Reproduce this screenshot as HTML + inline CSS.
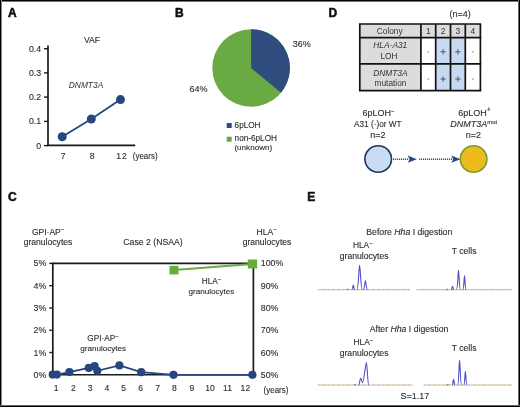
<!DOCTYPE html>
<html><head><meta charset="utf-8"><style>
html,body{margin:0;padding:0;background:#fff;width:520px;height:407px;overflow:hidden}
svg{display:block;font-family:"Liberation Sans",sans-serif;filter:blur(0.3px)}
</style></head><body>
<svg width="520" height="407" viewBox="0 0 520 407">
<rect x="0" y="0" width="520" height="407" fill="#fff"/>
<text x="8" y="17" font-size="12" text-anchor="start" font-weight="bold" fill="#111" stroke="#111" stroke-width="0.55" >A</text>
<text x="175" y="17" font-size="12" text-anchor="start" font-weight="bold" fill="#111" stroke="#111" stroke-width="0.55" >B</text>
<text x="328.6" y="17" font-size="12" text-anchor="start" font-weight="bold" fill="#111" stroke="#111" stroke-width="0.55" >D</text>
<text x="8" y="201.0" font-size="12" text-anchor="start" font-weight="bold" fill="#111" stroke="#111" stroke-width="0.55" >C</text>
<text x="307.3" y="200.8" font-size="12" text-anchor="start" font-weight="bold" fill="#111" stroke="#111" stroke-width="0.55" >E</text>
<text x="92" y="43.3" font-size="8.6" text-anchor="middle" font-weight="normal" fill="#2e2e2e" stroke="#2e2e2e" stroke-width="0.12" >VAF</text>
<text x="86" y="88" font-size="8.4" text-anchor="middle" font-weight="normal" fill="#333" stroke="#333" stroke-width="0" font-style="italic" >DNMT3A</text>
<line x1="48" y1="45.4" x2="48" y2="146" stroke="#1a1a1a" stroke-width="1.7"/>
<line x1="47" y1="145.4" x2="135.2" y2="145.4" stroke="#1a1a1a" stroke-width="1.6"/>
<line x1="44" y1="48.7" x2="48" y2="48.7" stroke="#1a1a1a" stroke-width="1.4"/>
<text x="41.2" y="51.7" font-size="8.8" text-anchor="end" font-weight="normal" fill="#2e2e2e" stroke="#2e2e2e" stroke-width="0.12" >0.4</text>
<line x1="44" y1="72.9" x2="48" y2="72.9" stroke="#1a1a1a" stroke-width="1.4"/>
<text x="41.2" y="75.9" font-size="8.8" text-anchor="end" font-weight="normal" fill="#2e2e2e" stroke="#2e2e2e" stroke-width="0.12" >0.3</text>
<line x1="44" y1="97.1" x2="48" y2="97.1" stroke="#1a1a1a" stroke-width="1.4"/>
<text x="41.2" y="100.1" font-size="8.8" text-anchor="end" font-weight="normal" fill="#2e2e2e" stroke="#2e2e2e" stroke-width="0.12" >0.2</text>
<line x1="44" y1="121.4" x2="48" y2="121.4" stroke="#1a1a1a" stroke-width="1.4"/>
<text x="41.2" y="124.4" font-size="8.8" text-anchor="end" font-weight="normal" fill="#2e2e2e" stroke="#2e2e2e" stroke-width="0.12" >0.1</text>
<line x1="44" y1="145.6" x2="48" y2="145.6" stroke="#1a1a1a" stroke-width="1.4"/>
<text x="41.2" y="148.6" font-size="8.8" text-anchor="end" font-weight="normal" fill="#2e2e2e" stroke="#2e2e2e" stroke-width="0.12" >0</text>
<polyline points="62.2,136.8 91.3,119 120.5,99.6" fill="none" stroke="#25467f" stroke-width="1.8"/>
<circle cx="62.2" cy="136.8" r="4.5" fill="#25467f"/>
<circle cx="91.3" cy="119" r="4.5" fill="#25467f"/>
<circle cx="120.5" cy="99.6" r="4.5" fill="#25467f"/>
<text x="63.2" y="158.6" font-size="8.6" text-anchor="middle" font-weight="normal" fill="#2e2e2e" stroke="#2e2e2e" stroke-width="0.12" >7</text>
<text x="92.1" y="158.6" font-size="8.6" text-anchor="middle" font-weight="normal" fill="#2e2e2e" stroke="#2e2e2e" stroke-width="0.12" >8</text>
<text x="116.3" y="158.7" font-size="8.6" text-anchor="start" font-weight="normal" fill="#2e2e2e" stroke="#2e2e2e" stroke-width="0.12" >1<tspan dx="0.8">2</tspan></text>
<text x="132.8" y="159.2" font-size="8.6" text-anchor="start" font-weight="normal" fill="#2e2e2e" stroke="#2e2e2e" stroke-width="0.12" textLength="24.8" lengthAdjust="spacingAndGlyphs">(years)</text>
<circle cx="251.1" cy="68.0" r="38.8" fill="#6aaa45"/>
<path d="M251.1,68.0 L251.1,29.200000000000003 A38.8,38.8 0 0 1 281.00,92.73 Z" fill="#2f4c7e"/>
<text x="301.8" y="46.5" font-size="9" text-anchor="middle" font-weight="normal" fill="#2e2e2e" stroke="#2e2e2e" stroke-width="0.12" >36%</text>
<text x="198.4" y="91.9" font-size="9" text-anchor="middle" font-weight="normal" fill="#2e2e2e" stroke="#2e2e2e" stroke-width="0.12" >64%</text>
<rect x="226.7" y="123" width="5" height="5" fill="#2f4c7e"/>
<rect x="226.7" y="136.7" width="5" height="5" fill="#6aaa45"/>
<text x="234.6" y="127.9" font-size="8.2" text-anchor="start" font-weight="normal" fill="#2e2e2e" stroke="#2e2e2e" stroke-width="0.12" >6pLOH</text>
<text x="234.6" y="141.1" font-size="8.2" text-anchor="start" font-weight="normal" fill="#2e2e2e" stroke="#2e2e2e" stroke-width="0.12" >non-6pLOH</text>
<text x="234.4" y="149.6" font-size="8.1" text-anchor="start" font-weight="normal" fill="#2e2e2e" stroke="#2e2e2e" stroke-width="0.12" >(unknown)</text>
<text x="460.2" y="17.2" font-size="9" text-anchor="middle" font-weight="normal" fill="#2e2e2e" stroke="#2e2e2e" stroke-width="0.12" >(n=4)</text>
<rect x="359.8" y="24" width="120.59999999999997" height="13.600000000000001" fill="#dcdcdc"/>
<rect x="359.8" y="24" width="61.099999999999966" height="66.7" fill="#dcdcdc"/>
<rect x="435.7" y="37.6" width="29.600000000000023" height="53.1" fill="#c8daf1"/>
<line x1="358.95" y1="24" x2="481.25" y2="24" stroke="#111" stroke-width="1.7"/>
<line x1="358.95" y1="37.6" x2="481.25" y2="37.6" stroke="#111" stroke-width="1.7"/>
<line x1="358.95" y1="63.9" x2="481.25" y2="63.9" stroke="#111" stroke-width="1.7"/>
<line x1="358.95" y1="90.7" x2="481.25" y2="90.7" stroke="#111" stroke-width="1.7"/>
<line x1="359.8" y1="24" x2="359.8" y2="90.7" stroke="#111" stroke-width="1.7"/>
<line x1="420.9" y1="24" x2="420.9" y2="90.7" stroke="#111" stroke-width="1.7"/>
<line x1="435.7" y1="24" x2="435.7" y2="90.7" stroke="#111" stroke-width="1.7"/>
<line x1="450.5" y1="24" x2="450.5" y2="90.7" stroke="#111" stroke-width="1.7"/>
<line x1="465.3" y1="24" x2="465.3" y2="90.7" stroke="#111" stroke-width="1.7"/>
<line x1="480.4" y1="24" x2="480.4" y2="90.7" stroke="#111" stroke-width="1.7"/>
<text x="389.7" y="34.1" font-size="8.3" text-anchor="middle" font-weight="normal" fill="#333" stroke="#333" stroke-width="0" >Colony</text>
<text x="428.29999999999995" y="33.9" font-size="8.4" text-anchor="middle" font-weight="normal" fill="#333" stroke="#333" stroke-width="0" >1</text>
<text x="443.1" y="33.9" font-size="8.4" text-anchor="middle" font-weight="normal" fill="#333" stroke="#333" stroke-width="0" >2</text>
<text x="457.9" y="33.9" font-size="8.4" text-anchor="middle" font-weight="normal" fill="#333" stroke="#333" stroke-width="0" >3</text>
<text x="472.85" y="33.9" font-size="8.4" text-anchor="middle" font-weight="normal" fill="#333" stroke="#333" stroke-width="0" >4</text>
<text x="390.3" y="48.4" font-size="8.4" text-anchor="middle" font-weight="normal" fill="#333" stroke="#333" stroke-width="0" font-style="italic" >HLA·A31</text>
<text x="389" y="58.5" font-size="8.4" text-anchor="middle" font-weight="normal" fill="#333" stroke="#333" stroke-width="0" >LOH</text>
<text x="390.4" y="75.9" font-size="8.4" text-anchor="middle" font-weight="normal" fill="#333" stroke="#333" stroke-width="0" font-style="italic" >DNMT3A</text>
<text x="390.5" y="86.4" font-size="8.3" text-anchor="middle" font-weight="normal" fill="#333" stroke="#333" stroke-width="0" >mutation</text>
<rect x="427.4" y="51.199999999999996" width="1.8" height="1.2" fill="#999"/>
<path d="M440.40000000000003,51.8 H445.8 M443.1,49.099999999999994 V54.5" stroke="#3a4560" stroke-width="0.85"/>
<path d="M455.2,51.8 H460.59999999999997 M457.9,49.099999999999994 V54.5" stroke="#3a4560" stroke-width="0.85"/>
<rect x="471.95000000000005" y="51.199999999999996" width="1.8" height="1.2" fill="#999"/>
<rect x="427.4" y="78.4" width="1.8" height="1.2" fill="#999"/>
<path d="M440.40000000000003,79.0 H445.8 M443.1,76.3 V81.7" stroke="#3a4560" stroke-width="0.85"/>
<path d="M455.2,79.0 H460.59999999999997 M457.9,76.3 V81.7" stroke="#3a4560" stroke-width="0.85"/>
<rect x="471.95000000000005" y="78.4" width="1.8" height="1.2" fill="#999"/>
<text x="378.4" y="116.4" font-size="9" text-anchor="middle" font-weight="normal" fill="#2e2e2e" stroke="#2e2e2e" stroke-width="0.12" >6pLOH<tspan font-size="6" dy="-3.3">−</tspan></text>
<text x="377.8" y="126.9" font-size="8.9" text-anchor="middle" font-weight="normal" fill="#2e2e2e" stroke="#2e2e2e" stroke-width="0.12" textLength="47.5" lengthAdjust="spacingAndGlyphs">A31 (·)or WT</text>
<text x="378" y="137.7" font-size="9" text-anchor="middle" font-weight="normal" fill="#2e2e2e" stroke="#2e2e2e" stroke-width="0.12" >n=2</text>
<text x="474.6" y="116.2" font-size="9" text-anchor="middle" font-weight="normal" fill="#2e2e2e" stroke="#2e2e2e" stroke-width="0.12" >6pLOH<tspan font-size="7" dy="-4">+</tspan></text>
<text x="473.7" y="126.5" font-size="9" text-anchor="middle" font-weight="normal" fill="#2e2e2e" stroke="#2e2e2e" stroke-width="0.12" ><tspan font-style="italic">DNMT3A</tspan><tspan font-size="5.8" dy="-3">mut</tspan></text>
<text x="473.5" y="137.7" font-size="9" text-anchor="middle" font-weight="normal" fill="#2e2e2e" stroke="#2e2e2e" stroke-width="0.12" >n=2</text>
<circle cx="378.2" cy="159" r="13.3" fill="#c8dcf3" stroke="#22345a" stroke-width="1.6"/>
<circle cx="473.6" cy="159" r="13.3" fill="#eebb1e" stroke="#7b9a2d" stroke-width="1.6"/>
<rect x="393" y="158.5" width="1.2" height="1.4" fill="#25467f"/>
<rect x="395" y="158.5" width="1.2" height="1.4" fill="#25467f"/>
<rect x="397" y="158.5" width="1.2" height="1.4" fill="#25467f"/>
<rect x="399" y="158.5" width="1.2" height="1.4" fill="#25467f"/>
<rect x="401" y="158.5" width="1.2" height="1.4" fill="#25467f"/>
<rect x="403" y="158.5" width="1.2" height="1.4" fill="#25467f"/>
<rect x="405" y="158.5" width="1.2" height="1.4" fill="#25467f"/>
<rect x="407" y="158.5" width="1.2" height="1.4" fill="#25467f"/>
<rect x="419" y="158.5" width="1.2" height="1.4" fill="#25467f"/>
<rect x="421" y="158.5" width="1.2" height="1.4" fill="#25467f"/>
<rect x="423" y="158.5" width="1.2" height="1.4" fill="#25467f"/>
<rect x="425" y="158.5" width="1.2" height="1.4" fill="#25467f"/>
<rect x="427" y="158.5" width="1.2" height="1.4" fill="#25467f"/>
<rect x="429" y="158.5" width="1.2" height="1.4" fill="#25467f"/>
<rect x="431" y="158.5" width="1.2" height="1.4" fill="#25467f"/>
<rect x="433" y="158.5" width="1.2" height="1.4" fill="#25467f"/>
<rect x="435" y="158.5" width="1.2" height="1.4" fill="#25467f"/>
<rect x="437" y="158.5" width="1.2" height="1.4" fill="#25467f"/>
<rect x="439" y="158.5" width="1.2" height="1.4" fill="#25467f"/>
<rect x="441" y="158.5" width="1.2" height="1.4" fill="#25467f"/>
<rect x="443" y="158.5" width="1.2" height="1.4" fill="#25467f"/>
<rect x="445" y="158.5" width="1.2" height="1.4" fill="#25467f"/>
<rect x="447" y="158.5" width="1.2" height="1.4" fill="#25467f"/>
<rect x="449" y="158.5" width="1.2" height="1.4" fill="#25467f"/>
<rect x="451" y="158.5" width="1.2" height="1.4" fill="#25467f"/>
<path d="M407.7,155.6 L416.8,159.2 L407.7,162.8 L409.6,159.2 Z" fill="#25467f"/>
<path d="M451.3,155.6 L460.4,159.2 L451.3,162.8 L453.2,159.2 Z" fill="#25467f"/>
<text x="48.1" y="234.6" font-size="8.5" text-anchor="middle" font-weight="normal" fill="#2e2e2e" stroke="#2e2e2e" stroke-width="0.12" >GPI·AP<tspan font-size="6" dy="-3.3">−</tspan></text>
<text x="48" y="244.9" font-size="8.6" text-anchor="middle" font-weight="normal" fill="#2e2e2e" stroke="#2e2e2e" stroke-width="0.12" >granulocytes</text>
<text x="153" y="244.9" font-size="8.7" text-anchor="middle" font-weight="normal" fill="#2e2e2e" stroke="#2e2e2e" stroke-width="0.12" >Case 2 (NSAA)</text>
<text x="266.7" y="234.6" font-size="8.6" text-anchor="middle" font-weight="normal" fill="#2e2e2e" stroke="#2e2e2e" stroke-width="0.12" >HLA<tspan font-size="6" dy="-3.3">−</tspan></text>
<text x="267" y="244.9" font-size="8.6" text-anchor="middle" font-weight="normal" fill="#2e2e2e" stroke="#2e2e2e" stroke-width="0.12" >granulocytes</text>
<line x1="52.8" y1="263.4" x2="253.4" y2="263.4" stroke="#1a1a1a" stroke-width="1.6"/>
<line x1="52.8" y1="374.8" x2="253.4" y2="374.8" stroke="#1a1a1a" stroke-width="1.6"/>
<line x1="52.8" y1="262.59999999999997" x2="52.8" y2="375.6" stroke="#1a1a1a" stroke-width="1.7"/>
<line x1="253.4" y1="262.59999999999997" x2="253.4" y2="375.6" stroke="#1a1a1a" stroke-width="1.7"/>
<line x1="49.3" y1="263.4" x2="52.8" y2="263.4" stroke="#1a1a1a" stroke-width="1.4"/>
<text x="46.3" y="266.4" font-size="8.8" text-anchor="end" font-weight="normal" fill="#2e2e2e" stroke="#2e2e2e" stroke-width="0.12" >5%</text>
<text x="260.8" y="266.4" font-size="8.8" text-anchor="start" font-weight="normal" fill="#2e2e2e" stroke="#2e2e2e" stroke-width="0.12" >100%</text>
<line x1="49.3" y1="285.68" x2="52.8" y2="285.68" stroke="#1a1a1a" stroke-width="1.4"/>
<text x="46.3" y="288.68" font-size="8.8" text-anchor="end" font-weight="normal" fill="#2e2e2e" stroke="#2e2e2e" stroke-width="0.12" >4%</text>
<text x="260.8" y="288.68" font-size="8.8" text-anchor="start" font-weight="normal" fill="#2e2e2e" stroke="#2e2e2e" stroke-width="0.12" >90%</text>
<line x1="49.3" y1="307.96" x2="52.8" y2="307.96" stroke="#1a1a1a" stroke-width="1.4"/>
<text x="46.3" y="310.96" font-size="8.8" text-anchor="end" font-weight="normal" fill="#2e2e2e" stroke="#2e2e2e" stroke-width="0.12" >3%</text>
<text x="260.8" y="310.96" font-size="8.8" text-anchor="start" font-weight="normal" fill="#2e2e2e" stroke="#2e2e2e" stroke-width="0.12" >80%</text>
<line x1="49.3" y1="330.24" x2="52.8" y2="330.24" stroke="#1a1a1a" stroke-width="1.4"/>
<text x="46.3" y="333.24" font-size="8.8" text-anchor="end" font-weight="normal" fill="#2e2e2e" stroke="#2e2e2e" stroke-width="0.12" >2%</text>
<text x="260.8" y="333.24" font-size="8.8" text-anchor="start" font-weight="normal" fill="#2e2e2e" stroke="#2e2e2e" stroke-width="0.12" >70%</text>
<line x1="49.3" y1="352.52" x2="52.8" y2="352.52" stroke="#1a1a1a" stroke-width="1.4"/>
<text x="46.3" y="355.52" font-size="8.8" text-anchor="end" font-weight="normal" fill="#2e2e2e" stroke="#2e2e2e" stroke-width="0.12" >1%</text>
<text x="260.8" y="355.52" font-size="8.8" text-anchor="start" font-weight="normal" fill="#2e2e2e" stroke="#2e2e2e" stroke-width="0.12" >60%</text>
<line x1="49.3" y1="374.8" x2="52.8" y2="374.8" stroke="#1a1a1a" stroke-width="1.4"/>
<text x="46.3" y="377.8" font-size="8.8" text-anchor="end" font-weight="normal" fill="#2e2e2e" stroke="#2e2e2e" stroke-width="0.12" >0%</text>
<text x="260.8" y="377.8" font-size="8.8" text-anchor="start" font-weight="normal" fill="#2e2e2e" stroke="#2e2e2e" stroke-width="0.12" >50%</text>
<text x="56.2" y="391" font-size="8.6" text-anchor="middle" font-weight="normal" fill="#2e2e2e" stroke="#2e2e2e" stroke-width="0.12" >1</text>
<text x="73.4" y="391" font-size="8.6" text-anchor="middle" font-weight="normal" fill="#2e2e2e" stroke="#2e2e2e" stroke-width="0.12" >2</text>
<text x="90.1" y="391" font-size="8.6" text-anchor="middle" font-weight="normal" fill="#2e2e2e" stroke="#2e2e2e" stroke-width="0.12" >3</text>
<text x="106.9" y="391" font-size="8.6" text-anchor="middle" font-weight="normal" fill="#2e2e2e" stroke="#2e2e2e" stroke-width="0.12" >4</text>
<text x="123.6" y="391" font-size="8.6" text-anchor="middle" font-weight="normal" fill="#2e2e2e" stroke="#2e2e2e" stroke-width="0.12" >5</text>
<text x="140.6" y="391" font-size="8.6" text-anchor="middle" font-weight="normal" fill="#2e2e2e" stroke="#2e2e2e" stroke-width="0.12" >6</text>
<text x="157.6" y="391" font-size="8.6" text-anchor="middle" font-weight="normal" fill="#2e2e2e" stroke="#2e2e2e" stroke-width="0.12" >7</text>
<text x="174.5" y="391" font-size="8.6" text-anchor="middle" font-weight="normal" fill="#2e2e2e" stroke="#2e2e2e" stroke-width="0.12" >8</text>
<text x="191.9" y="391" font-size="8.6" text-anchor="middle" font-weight="normal" fill="#2e2e2e" stroke="#2e2e2e" stroke-width="0.12" >9</text>
<text x="210.1" y="391" font-size="8.6" text-anchor="middle" font-weight="normal" fill="#2e2e2e" stroke="#2e2e2e" stroke-width="0.12" >10</text>
<text x="227.5" y="391" font-size="8.6" text-anchor="middle" font-weight="normal" fill="#2e2e2e" stroke="#2e2e2e" stroke-width="0.12" >11</text>
<text x="245.4" y="391" font-size="8.6" text-anchor="middle" font-weight="normal" fill="#2e2e2e" stroke="#2e2e2e" stroke-width="0.12" >12</text>
<text x="263.6" y="392.8" font-size="8.6" text-anchor="start" font-weight="normal" fill="#2e2e2e" stroke="#2e2e2e" stroke-width="0.12" textLength="24.8" lengthAdjust="spacingAndGlyphs">(years)</text>
<text x="103" y="340.9" font-size="8.2" text-anchor="middle" font-weight="normal" fill="#2e2e2e" stroke="#2e2e2e" stroke-width="0.12" >GPI·AP<tspan font-size="6" dy="-3.3">−</tspan></text>
<text x="103.2" y="351.1" font-size="8.1" text-anchor="middle" font-weight="normal" fill="#2e2e2e" stroke="#2e2e2e" stroke-width="0.12" >granulocytes</text>
<text x="211.5" y="284.1" font-size="8.2" text-anchor="middle" font-weight="normal" fill="#2e2e2e" stroke="#2e2e2e" stroke-width="0.12" >HLA<tspan font-size="6" dy="-3.3">−</tspan></text>
<text x="211.4" y="294.2" font-size="8.1" text-anchor="middle" font-weight="normal" fill="#2e2e2e" stroke="#2e2e2e" stroke-width="0.12" >granulocytes</text>
<polyline points="52.7,374.6 56.9,374.6 69.4,372.1 88.8,367.9 94.6,366 97.3,370.8 119.4,365.4 141.2,372.2 173.5,374.8 252.4,374.8" fill="none" stroke="#25467f" stroke-width="1.8"/>
<circle cx="52.7" cy="374.6" r="4.1" fill="#25467f"/>
<circle cx="56.9" cy="374.6" r="4.1" fill="#25467f"/>
<circle cx="69.4" cy="372.1" r="4.1" fill="#25467f"/>
<circle cx="88.8" cy="367.9" r="4.1" fill="#25467f"/>
<circle cx="94.6" cy="366" r="4.1" fill="#25467f"/>
<circle cx="97.3" cy="370.8" r="4.1" fill="#25467f"/>
<circle cx="119.4" cy="365.4" r="4.1" fill="#25467f"/>
<circle cx="141.2" cy="372.2" r="4.1" fill="#25467f"/>
<circle cx="173.5" cy="374.8" r="4.1" fill="#25467f"/>
<circle cx="252.4" cy="374.8" r="4.1" fill="#25467f"/>
<line x1="174" y1="270" x2="252.5" y2="264" stroke="#6aab3f" stroke-width="1.8"/>
<rect x="169.5" y="265.8" width="9" height="8.6" fill="#6aab3f"/>
<rect x="247.8" y="259.5" width="9.4" height="9" fill="#6aab3f"/>
<text x="409.3" y="235" font-size="8.7" text-anchor="middle" font-weight="normal" fill="#2e2e2e" stroke="#2e2e2e" stroke-width="0.12" >Before <tspan font-style="italic">Hha</tspan> I digestion</text>
<text x="409.1" y="331.7" font-size="8.7" text-anchor="middle" font-weight="normal" fill="#2e2e2e" stroke="#2e2e2e" stroke-width="0.12" >After <tspan font-style="italic">Hha</tspan> I digestion</text>
<text x="362.8" y="248.1" font-size="8.4" text-anchor="middle" font-weight="normal" fill="#2e2e2e" stroke="#2e2e2e" stroke-width="0.12" >HLA<tspan font-size="6" dy="-3.3">−</tspan></text>
<text x="364.2" y="259" font-size="8.6" text-anchor="middle" font-weight="normal" fill="#2e2e2e" stroke="#2e2e2e" stroke-width="0.12" >granulocytes</text>
<text x="363.4" y="345.4" font-size="8.4" text-anchor="middle" font-weight="normal" fill="#2e2e2e" stroke="#2e2e2e" stroke-width="0.12" >HLA<tspan font-size="6" dy="-3.3">−</tspan></text>
<text x="364.1" y="355.6" font-size="8.6" text-anchor="middle" font-weight="normal" fill="#2e2e2e" stroke="#2e2e2e" stroke-width="0.12" >granulocytes</text>
<text x="464.1" y="253.5" font-size="8.6" text-anchor="middle" font-weight="normal" fill="#2e2e2e" stroke="#2e2e2e" stroke-width="0.12" >T cells</text>
<text x="464.1" y="350.8" font-size="8.6" text-anchor="middle" font-weight="normal" fill="#2e2e2e" stroke="#2e2e2e" stroke-width="0.12" >T cells</text>
<text x="414.9" y="399" font-size="9" text-anchor="middle" font-weight="normal" fill="#2e2e2e" stroke="#2e2e2e" stroke-width="0.12" >S=1.17</text>
<line x1="318" y1="289.7" x2="410" y2="289.7" stroke="#cdae8c" stroke-width="0.9"/>
<line x1="318" y1="289.7" x2="410" y2="289.7" stroke="#9a7a66" stroke-width="0.7" stroke-dasharray="1,4" opacity="0.6"/>
<line x1="416.6" y1="289.7" x2="512" y2="289.7" stroke="#cdae8c" stroke-width="0.9"/>
<line x1="416.6" y1="289.7" x2="512" y2="289.7" stroke="#9a7a66" stroke-width="0.7" stroke-dasharray="1,4" opacity="0.6"/>
<line x1="318" y1="385.0" x2="412.6" y2="385.0" stroke="#cdae8c" stroke-width="0.9"/>
<line x1="318" y1="385.0" x2="412.6" y2="385.0" stroke="#9a7a66" stroke-width="0.7" stroke-dasharray="1,4" opacity="0.6"/>
<line x1="423.7" y1="385.0" x2="512" y2="385.0" stroke="#cdae8c" stroke-width="0.9"/>
<line x1="423.7" y1="385.0" x2="512" y2="385.0" stroke="#9a7a66" stroke-width="0.7" stroke-dasharray="1,4" opacity="0.6"/>
<rect x="346.7" y="288.8" width="2" height="1.3" fill="#888"/>
<rect x="445.9" y="288.8" width="2" height="1.3" fill="#888"/>
<rect x="354" y="384.1" width="2" height="1.3" fill="#888"/>
<rect x="446.5" y="384.1" width="2" height="1.3" fill="#888"/>
<path d="M351.7,289.7 C352.66,289.7 352.90000000000003,285 353.3,285 C353.7,285 353.94,289.7 354.90000000000003,289.7" fill="none" stroke="#4f4fc4" stroke-width="1.1"/>
<path d="M356.8,289.7 C358.48,289.7 358.90000000000003,265.2 359.6,265.2 C360.3,265.2 360.72,289.7 362.40000000000003,289.7" fill="none" stroke="#4f4fc4" stroke-width="1.1"/>
<path d="M363.2,289.7 C364.52,289.7 364.84999999999997,280.6 365.4,280.6 C365.95,280.6 366.28,289.7 367.59999999999997,289.7" fill="none" stroke="#4f4fc4" stroke-width="1.1"/>
<path d="M451.0,289.7 C451.9,289.7 452.125,286.2 452.5,286.2 C452.875,286.2 453.1,289.7 454.0,289.7" fill="none" stroke="#4f4fc4" stroke-width="1.1"/>
<path d="M456.5,289.7 C457.7,289.7 458.0,270.3 458.5,270.3 C459.0,270.3 459.3,289.7 460.5,289.7" fill="none" stroke="#4f4fc4" stroke-width="1.1"/>
<path d="M462.9,289.7 C463.86,289.7 464.1,275.9 464.5,275.9 C464.9,275.9 465.14,289.7 466.1,289.7" fill="none" stroke="#4f4fc4" stroke-width="1.1"/>
<path d="M452.1,385.0 C453.0,385.0 453.225,379.2 453.6,379.2 C453.975,379.2 454.20000000000005,385.0 455.1,385.0" fill="none" stroke="#4f4fc4" stroke-width="1.1"/>
<path d="M457.6,385.0 C458.8,385.0 459.1,360 459.6,360 C460.1,360 460.40000000000003,385.0 461.6,385.0" fill="none" stroke="#4f4fc4" stroke-width="1.1"/>
<path d="M463.79999999999995,385.0 C464.76,385.0 465.0,371.6 465.4,371.6 C465.79999999999995,371.6 466.03999999999996,385.0 467.0,385.0" fill="none" stroke="#4f4fc4" stroke-width="1.1"/>
<path d="M358.6,385 C359.6,385 359.9,378.3 360.6,378.3 C361.4,378.3 361.8,382.6 362.7,382.6 C363.7,382.6 365.6,362.6 366.4,362.6 C367.2,362.6 367.6,385 368.8,385" fill="none" stroke="#4f4fc4" stroke-width="1.1"/>
<rect x="0" y="0" width="520" height="1" fill="#000"/>
<rect x="0" y="1" width="520" height="1" fill="#777"/>
<rect x="0" y="0" width="1" height="407" fill="#000"/>
<rect x="1" y="0" width="1" height="407" fill="#888"/>
<rect x="519" y="0" width="1" height="407" fill="#000"/>
<rect x="518" y="0" width="1" height="407" fill="#666"/>
<rect x="0" y="406" width="520" height="1" fill="#000"/>
<rect x="0" y="405" width="520" height="1" fill="#666"/>
</svg>
</body></html>
